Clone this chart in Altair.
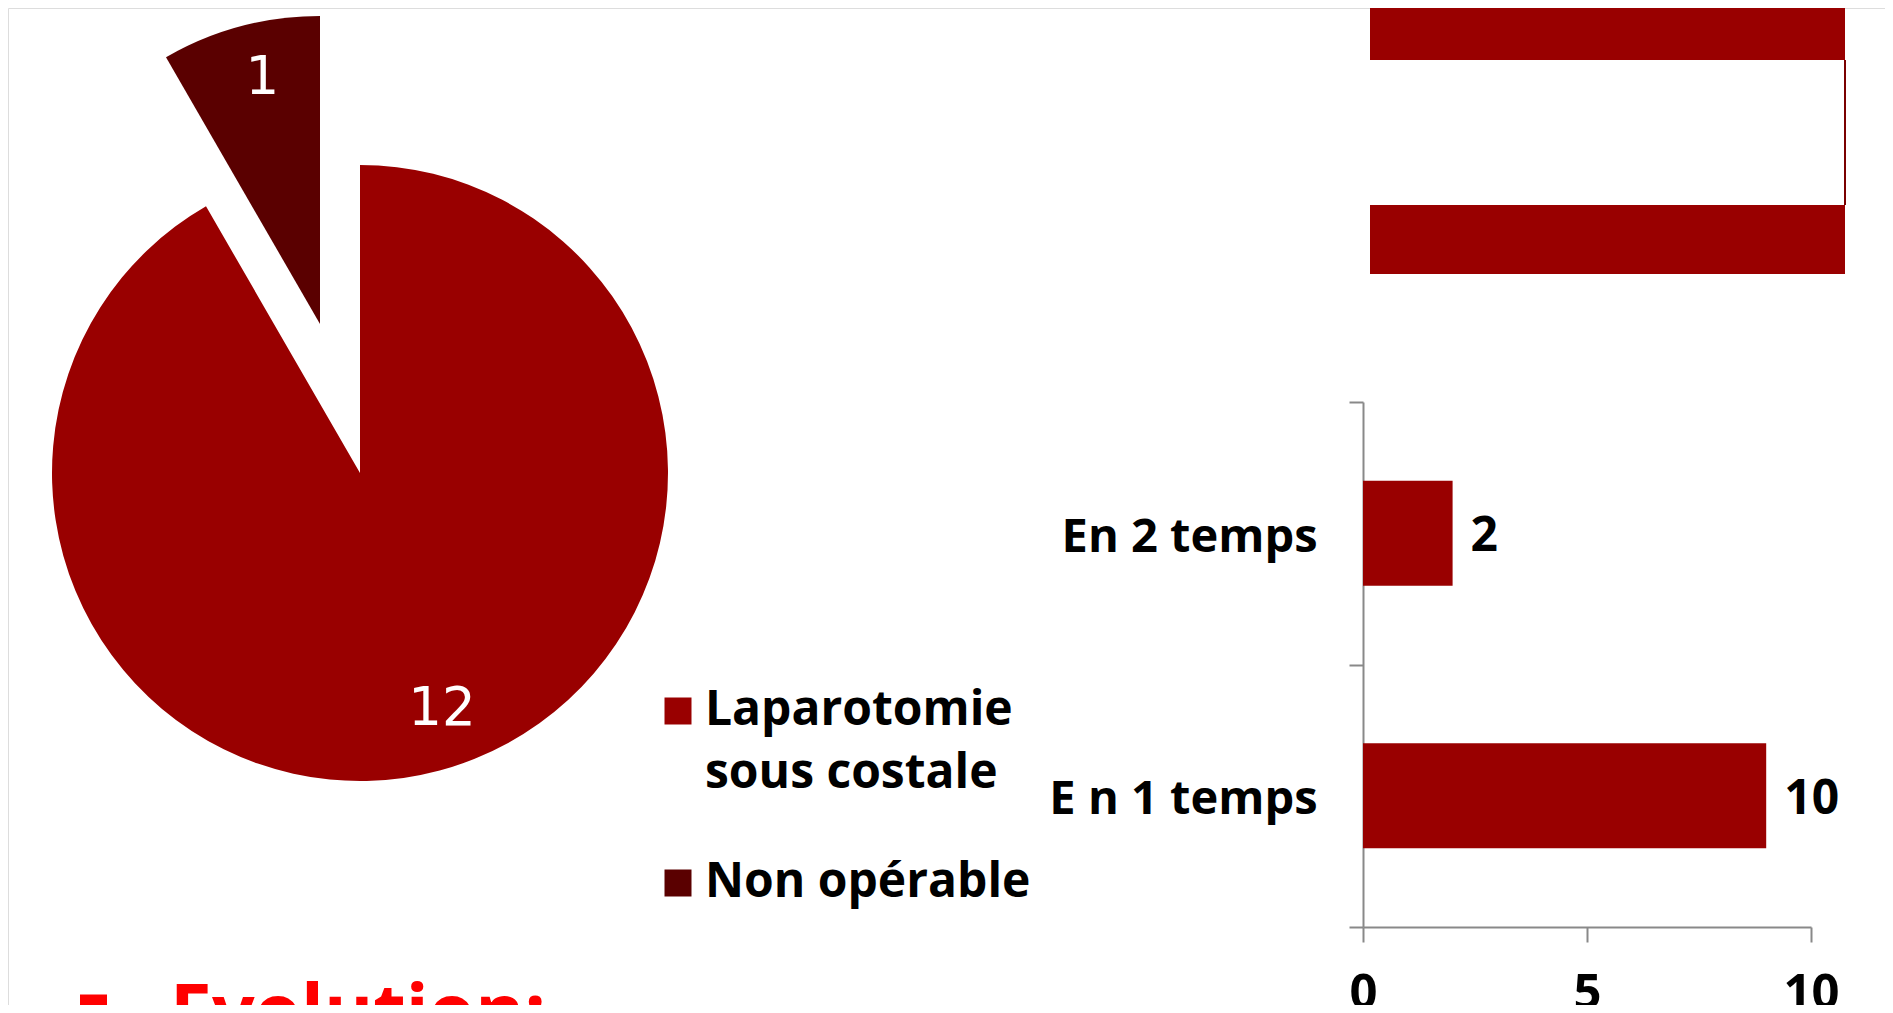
import altair as alt
import pandas as pd

# ---------------- data ----------------
pie_cats = ["Laparotomie sous costale", "Non opérable"]
pie_vals = [11, 1]          # slice sizes as drawn (small slice spans ~30°)
pie_labels = ["12", "1"]    # data labels printed on the slices
pie_order = [0, 1]
pie_colors = ["#990000", "#5A0000"]

bar_cats = ["En 2 temps", "E n 1 temps"]
bar_vals = [2, 9]
bar_labels = ["2", "10"]
bar_ticks = [0, 5, 10]

top_cats = ["haut", "bas"]
top_vals = [10, 10]

bullet_text = ["Evolution:"]

pie_df = pd.DataFrame({"cat": pie_cats, "val": pie_vals, "lab": pie_labels, "ord": pie_order})
bar_df = pd.DataFrame({"cat": bar_cats, "val": bar_vals, "lab": bar_labels})
top_df = pd.DataFrame({"cat": top_cats, "val": top_vals})
txt_df = pd.DataFrame({"t": bullet_text})

GRAY = "#898989"
BOLD_FONT = "Open Sans"

# ---------------- pie ----------------
is_main = "datum.ord == 0"
is_small = "datum.ord == 1"

pie_base = alt.Chart(pie_df).encode(
    theta=alt.Theta("val:Q", stack=True),
    order=alt.Order("ord:Q"),
    x=alt.value(352),
    y=alt.value(465),
)

legend = alt.Legend(
    orient="none", legendX=646, legendY=679, title=None, padding=0,
    symbolType="square", symbolSize=729, symbolStrokeWidth=0, symbolOpacity=1,
    labelFont=BOLD_FONT, labelFontWeight="bold", labelFontSize=48, labelColor="black",
    labelOffset=3, labelLimit=0, rowPadding=61,
    labelExpr="datum.label == 'Laparotomie sous costale' ? ['Laparotomie', 'sous costale'] : datum.label",
)

color_main = alt.Color("cat:N", scale=alt.Scale(domain=pie_cats, range=pie_colors), legend=legend)
color_nolegend = alt.Color("cat:N", scale=alt.Scale(domain=pie_cats, range=pie_colors), legend=None)

arc_main = pie_base.mark_arc(radius=308).encode(
    color=color_main,
    opacity=alt.condition(is_main, alt.value(1), alt.value(0)),
)
arc_small = pie_base.mark_arc(radius=308, xOffset=-40, yOffset=-149).encode(
    color=color_nolegend,
    opacity=alt.condition(is_small, alt.value(1), alt.value(0)),
)
txt_main = pie_base.mark_text(
    radius=247, dx=18, dy=-3, font="DejaVu Sans", fontSize=53, color="white", baseline="middle"
).encode(text="lab:N", opacity=alt.condition(is_main, alt.value(1), alt.value(0)))
txt_small = pie_base.mark_text(
    radius=254, xOffset=-40, yOffset=-149, dx=8, dy=-1, font="DejaVu Sans", fontSize=53,
    color="white", baseline="middle"
).encode(text="lab:N", opacity=alt.condition(is_small, alt.value(1), alt.value(0)))

pie = alt.layer(arc_main, arc_small, txt_main, txt_small)

# ---------------- bottom bar chart ----------------
xb = alt.X(
    "val:Q",
    scale=alt.Scale(domain=[0, 10], range=[1355, 1803], nice=False, zero=True),
    axis=alt.Axis(
        values=bar_ticks, orient="bottom", offset=-78, title=None, grid=False,
        tickSize=15, tickWidth=2, tickColor=GRAY, domainColor=GRAY, domainWidth=2,
        labelFont=BOLD_FONT, labelFontWeight="bold", labelFontSize=49, labelColor="black",
        labelPadding=27, labelFlush=False,
    ),
)
yb = alt.Y(
    "cat:N", sort=bar_cats,
    scale=alt.Scale(domain=bar_cats, range=[394, 919], paddingInner=0, paddingOuter=0),
    axis=alt.Axis(
        orient="left", offset=-1355, title=None, tickBand="extent",
        tickSize=14, tickWidth=2, tickColor=GRAY, domainColor=GRAY, domainWidth=2,
        labelFont=BOLD_FONT, labelFontWeight="bold", labelFontSize=47, labelColor="black",
        labelPadding=32, labelLimit=0, labelOffset=4,
    ),
)
bars = alt.Chart(bar_df).mark_bar(size=105, color="#990000").encode(x=xb, y=yb)
bar_txt = alt.Chart(bar_df).mark_text(
    align="left", baseline="middle", dx=18, dy=4, font=BOLD_FONT, fontWeight="bold",
    fontSize=48, color="black"
).encode(x=xb, y=yb, text="lab:N")
bottom_chart = alt.layer(bars, bar_txt)

# ---------------- top (cropped) bar chart ----------------
top_xscale = alt.Scale(domain=[0, 10], range=[1362, 1837], nice=False)
xt = alt.X("val:Q", scale=top_xscale, axis=None)
yt = alt.Y("cat:N", sort=top_cats,
           scale=alt.Scale(domain=top_cats, range=[-89.5, 338.5], paddingInner=0, paddingOuter=0),
           axis=None)
top_bars = alt.Chart(top_df).mark_bar(size=69, color="#990000").encode(x=xt, y=yt)
top_rule = alt.Chart(top_df).transform_aggregate(m="max(val)").mark_rule(
    color="#7A0000", strokeWidth=2
).encode(x=alt.X("m:Q", scale=top_xscale, axis=None),
         y=alt.value(52), y2=alt.value(197))
top_chart = alt.layer(top_bars, top_rule)

# ---------------- bottom-left bullet text ----------------
evo_txt = alt.Chart(txt_df).mark_text(
    align="left", baseline="alphabetic", font=BOLD_FONT, fontWeight="bold",
    fontSize=75, color="#FF0000"
).encode(x=alt.value(162), y=alt.value(1030), text="t:N")
evo_bullet = alt.Chart(txt_df).mark_square(size=729, color="#FF0000", opacity=1, strokeWidth=0).encode(
    x=alt.value(85.5), y=alt.value(1000)
)

chart = alt.layer(pie, bottom_chart, top_chart, evo_txt, evo_bullet).resolve_scale(
    x="independent", y="independent"
).properties(
    width=1877, height=997, padding=0,
    autosize=alt.AutoSizeParams(type="none"),
).configure_view(stroke=None).configure(
    background="white",
    style={"guide-label": {"lineHeight": 63}},
)

chart.save("out.html", embed_options={"renderer": "svg", "actions": False})
